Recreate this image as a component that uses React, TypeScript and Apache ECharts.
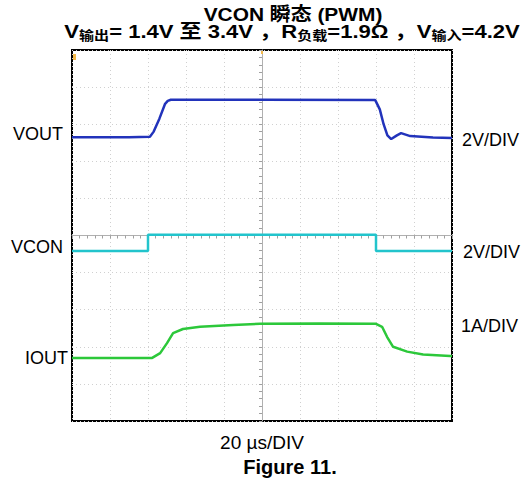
import React, { useEffect, useRef } from "react";
import * as echarts from "echarts";

// time in divisions (20 µs/DIV), amplitude in divisions
const voutTime = [-5, -3.5, -2.95, -2.85, -2.7, -2.55, -2.48, -2.4, 0, 2.98, 3.1, 3.2, 3.3, 3.4, 3.55, 3.66, 3.9, 4.5, 5];
const voutLevel = [2.65, 2.65, 2.66, 2.8, 3.15, 3.55, 3.63, 3.66, 3.66, 3.65, 3.4, 3.0, 2.7, 2.6, 2.7, 2.76, 2.68, 2.64, 2.63];

const vconTime = [-5, -3.0, -3.0, 3.0, 3.0, 5];
const vconLevel = [-0.42, -0.42, 0.02, 0.02, -0.42, -0.42];

const ioutTime = [-5, -2.89, -2.68, -2.5, -2.34, -2.08, -1.63, -0.76, -0.05, 1.5, 3.0, 3.16, 3.29, 3.45, 3.82, 4.24, 4.95, 5];
const ioutLevel = [-3.3, -3.3, -3.17, -2.9, -2.63, -2.52, -2.46, -2.41, -2.38, -2.37, -2.38, -2.46, -2.73, -3.0, -3.13, -3.21, -3.25, -3.25];

const leftLabels = ["VOUT", "VCON", "IOUT"];
const rightLabels = ["2V/DIV", "2V/DIV", "1A/DIV"];
const titleLine1 = "VCON 瞬态 (PWM)";
const xCaption = "20 µs/DIV";
const figureCaption = "Figure 11.";

const FONT = "Arial, 'Liberation Sans', 'Noto Sans CJK SC', sans-serif";

function pairs(xs: number[], ys: number[]) {
  return xs.map((x, i) => [x, ys[i]]);
}

export default function App() {
  const ref = useRef<HTMLDivElement>(null);
  useEffect(() => {
    if (!ref.current) return;
    const chart = echarts.init(ref.current, null, { renderer: "svg" });
    const gridLeft = 72, gridTop = 50, gridW = 380, gridH = 371;
    const axisCommon = {
      type: "value" as const,
      min: -5,
      max: 5,
      interval: 1,
      axisLabel: { show: false },
      axisLine: { onZero: true, lineStyle: { color: "#b0b0b0", width: 1 } },
      axisTick: { show: true, length: 3, lineStyle: { color: "#a0a0a0" } },
      minorTick: { show: true, splitNumber: 5, length: 3, lineStyle: { color: "#a0a0a0" } },
      splitLine: { show: true, lineStyle: { color: "#d0d0d0", type: [1, 3] as any, width: 1 } },
    };
    const sub = { fontSize: 13, fontWeight: "bold", fontFamily: FONT, padding: [8, 0, 0, 0], color: "#000" };
    const main = { fontSize: 19, fontWeight: "bold", fontFamily: FONT, color: "#000" };
    const label = `18px ${FONT}`;
    chart.setOption({
      animation: false,
      backgroundColor: "#fff",
      grid: {
        left: gridLeft, top: gridTop, width: gridW, height: gridH,
        show: true, borderColor: "#000", borderWidth: 2, backgroundColor: "#fff",
      },
      xAxis: axisCommon,
      yAxis: axisCommon,
      series: [
        {
          type: "line", data: pairs(voutTime, voutLevel), showSymbol: false,
          lineStyle: { color: "#2233bb", width: 2.5 }, z: 5,
        },
        {
          type: "line", data: pairs(vconTime, vconLevel), showSymbol: false,
          lineStyle: { color: "#22c4cc", width: 2.5 }, z: 5,
        },
        {
          type: "line", data: pairs(ioutTime, ioutLevel), showSymbol: false,
          lineStyle: { color: "#2cc83a", width: 2.5 }, z: 5,
        },
      ],
      graphic: [
        {
          type: "text", x: 293, y: 14, scaleX: 1.1, style: {
            text: titleLine1, font: `bold 19px ${FONT}`, fill: "#000",
            align: "center", verticalAlign: "middle",
          },
        },
        {
          type: "text", x: 292, y: 21, scaleX: 1.16, style: {
            text: "{m|V}{s|输出}{m|= 1.4V 至 3.4V ，R}{s|负载}{m|=1.9Ω ，V}{s|输入}{m|=4.2V}",
            align: "center", verticalAlign: "top",
            rich: { m: main, s: sub },
          },
        },
        { type: "rect", shape: { x: 73, y: 54, width: 3, height: 6 }, style: { fill: "#f2b84a" }, z: 10 },
        { type: "rect", shape: { x: 261, y: 51, width: 2, height: 3 }, style: { fill: "#f2b84a" }, z: 10 },
        { type: "text", x: 63, y: 134, style: { text: leftLabels[0], font: label, fill: "#000", align: "right", verticalAlign: "middle" } },
        { type: "text", x: 63, y: 247, style: { text: leftLabels[1], font: label, fill: "#000", align: "right", verticalAlign: "middle" } },
        { type: "text", x: 68, y: 358, style: { text: leftLabels[2], font: label, fill: "#000", align: "right", verticalAlign: "middle" } },
        { type: "text", x: 462, y: 140, style: { text: rightLabels[0], font: label, fill: "#000", align: "left", verticalAlign: "middle" } },
        { type: "text", x: 463, y: 252, style: { text: rightLabels[1], font: label, fill: "#000", align: "left", verticalAlign: "middle" } },
        { type: "text", x: 461, y: 326, style: { text: rightLabels[2], font: label, fill: "#000", align: "left", verticalAlign: "middle" } },
        { type: "text", x: 262, y: 442, style: { text: xCaption, font: `19px ${FONT}`, fill: "#000", align: "center", verticalAlign: "middle" } },
        { type: "text", x: 290, y: 467, style: { text: figureCaption, font: `bold 20px ${FONT}`, fill: "#000", align: "center", verticalAlign: "middle" } },
      ],
    });
    return () => chart.dispose();
  }, []);
  return (
    <div
      ref={ref}
      style={{ position: "fixed", left: 0, top: 0, width: 523, height: 483, background: "#fff" }}
    />
  );
}
